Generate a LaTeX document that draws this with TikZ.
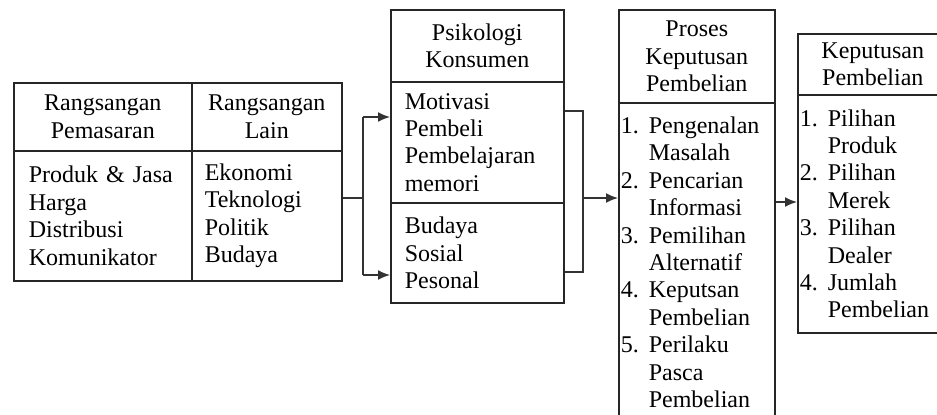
\documentclass[tikz,border=0pt]{standalone}
\usepackage{fontspec}
\setmainfont{Liberation Serif}
\usetikzlibrary{arrows.meta}
\tikzset{
    box/.style={
        draw=black!85,
        line width=0.8pt,
        anchor=north west,
        inner ysep=2pt,
        font=\fontsize{12}{13.7}\selectfont
    },
    headBox/.style={
        box,
        align=center
    },
    bodyBox/.style={
        box,
        align=left
    },
    link/.style={
        draw=black!80,
        line width=0.8pt
    },
    arrow/.style={
        link,
        -{Latex[length=6pt,width=5pt]}
    }
}
\newcommand{\nr}[1]{\makebox[14pt][l]{#1}}
\newcommand{\cont}{\hspace*{14pt}}

\begin{document}
\begin{tikzpicture}[x=0.5pt, y=-0.5pt]
            % Help lines :
            % \draw [help lines] (0,0) grid (937,414);
            \path [use as bounding box, clip] (0,0) rectangle (937,414);

            % Rangsangan
            \node (pemasaranHead) [
                headBox,
                minimum width=89pt,
                minimum height=34pt,
            ] at (13,82) {Rangsangan\\Pemasaran};
            \node (lainHead) [
                headBox,
                minimum width=75pt,
                minimum height=34pt,
            ] at (191,82) {Rangsangan\\Lain};
            \node (pemasaranBody) [
                bodyBox,
                minimum width=89pt,
                minimum height=65pt,
                inner xsep=7.5pt,
                text width=74pt,
            ] at (13,150) {Produk \& Jasa\\Harga\\Distribusi\\Komunikator};
            \node (lainBody) [
                bodyBox,
                minimum width=75pt,
                minimum height=65pt,
                inner xsep=6.5pt,
                text width=62pt,
            ] at (191,150) {Ekonomi\\Teknologi\\Politik\\Budaya};

            % Psikologi
            \node (psikoHead) [
                headBox,
                minimum width=86.5pt,
                minimum height=36pt,
            ] at (390,9) {Psikologi\\Konsumen};
            \node (motivBody) [
                bodyBox,
                minimum width=86.5pt,
                minimum height=60.5pt,
                inner xsep=7pt,
                text width=72.5pt,
            ] at (390,81) {Motivasi\\Pembeli\\Pembelajaran\\memori};
            \node (budayaBody) [
                bodyBox,
                minimum width=86.5pt,
                minimum height=50pt,
                inner xsep=7pt,
                text width=72.5pt,
            ] at (390,202) {Budaya\\Sosial\\Pesonal};

            % Proses
            \node (prosesHead) [
                headBox,
                minimum width=78pt,
                minimum height=46.5pt,
            ] at (618,9) {Proses\\Keputusan\\Pembelian};
            \node (prosesBody) [
                bodyBox,
                minimum width=78pt,
                minimum height=159.5pt,
                inner xsep=1pt,
                text width=76pt,
            ] at (618,102) {\nr{1.}Pengenalan\\\cont Masalah\\\nr{2.}Pencarian\\\cont Informasi\\\nr{3.}Pemilihan\\\cont Alternatif\\\nr{4.}Keputsan\\\cont Pembelian\\\nr{5.}Perilaku\\\cont Pasca\\\cont Pembelian};

            % Keputusan
            \node (keputusanHead) [
                headBox,
                minimum width=75pt,
                minimum height=30.5pt,
            ] at (797,33) {Keputusan\\Pembelian};
            \node (keputusanBody) [
                bodyBox,
                minimum width=75pt,
                minimum height=119pt,
                inner xsep=1pt,
                text width=73pt,
            ] at (797,94) {\nr{1.}Pilihan\\\cont Produk\\\nr{2.}Pilihan\\\cont Merek\\\nr{3.}Pilihan\\\cont Dealer\\\nr{4.}Jumlah\\\cont Pembelian};

            % Forks
            \coordinate (forkIn) at (363,198);
            \coordinate (forkInTop) at (363,117);
            \coordinate (forkInBot) at (363,275);
            \coordinate (forkOut) at (583,198);
            \coordinate (forkOutTop) at (583,111);
            \coordinate (forkOutBot) at (583,272);
            \coordinate (lastLink) at (774,202);

            % Edges
            \draw [link] (forkIn -| lainBody.east) -- (forkIn);
            \draw [link] (forkInTop) -- (forkInBot);
            \draw [arrow] (forkInTop) -- (forkInTop -| motivBody.west);
            \draw [arrow] (forkInBot) -- (forkInBot -| budayaBody.west);
            \draw [link] (forkOutTop -| motivBody.east) -- (forkOutTop)
                -- (forkOutBot) -- (forkOutBot -| budayaBody.east);
            \draw [arrow] (forkOut) -- (forkOut -| prosesBody.west);
            \draw [arrow] (lastLink -| prosesBody.east) -- (lastLink -| keputusanBody.west);
\end{tikzpicture}
\end{document}
